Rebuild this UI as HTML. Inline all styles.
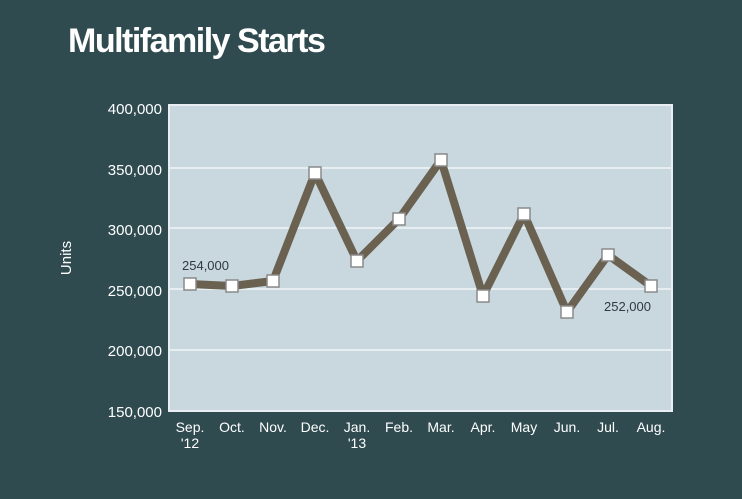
<!DOCTYPE html>
<html><head><style>
body{margin:0;width:742px;height:494px;background:#2f4b4f;overflow:hidden}
</style></head><body>
<svg width="742" height="494" xmlns="http://www.w3.org/2000/svg" font-family="Liberation Sans, sans-serif">
<rect width="742" height="494" fill="#2f4b4f"/>
<text x="68" y="52" fill="#fff" font-size="34" font-weight="bold" letter-spacing="-1.5">Multifamily Starts</text>
<rect x="169" y="105" width="503" height="306" fill="#c9d7df" stroke="#e8eef2" stroke-width="2"/>
<g stroke="#e6eef2" stroke-width="2">
<line x1="170" x2="671" y1="168" y2="168"/>
<line x1="170" x2="671" y1="228" y2="228"/>
<line x1="170" x2="671" y1="289" y2="289"/>
<line x1="170" x2="671" y1="350" y2="350"/>
</g>
<g fill="#fff" font-size="15" text-anchor="end">
<text x="162" y="114">400,000</text>
<text x="162" y="175">350,000</text>
<text x="162" y="235">300,000</text>
<text x="162" y="296">250,000</text>
<text x="162" y="356">200,000</text>
<text x="162" y="417">150,000</text>
</g>
<text transform="translate(71,258) rotate(-90)" fill="#fff" font-size="15" text-anchor="middle">Units</text>
<g fill="#fff" font-size="14" text-anchor="middle">
<text x="190" y="432">Sep.</text><text x="190" y="448">'12</text>
<text x="232" y="432">Oct.</text>
<text x="273" y="432">Nov.</text>
<text x="315" y="432">Dec.</text>
<text x="357" y="432">Jan.</text><text x="357" y="448">'13</text>
<text x="399" y="432">Feb.</text>
<text x="441" y="432">Mar.</text>
<text x="483" y="432">Apr.</text>
<text x="524" y="432">May</text>
<text x="567" y="432">Jun.</text>
<text x="608" y="432">Jul.</text>
<text x="651" y="432">Aug.</text>
</g>
<polyline fill="none" stroke="#6b6150" stroke-width="8" stroke-linejoin="round" points="190,284 232,286 273,281 315,173 357,261 399,219 441,160 483,296 524,214 567,312 608,255 651,286"/>
<g fill="#fff" stroke="#8a8a8a" stroke-width="1.5">
<rect x="184" y="278" width="12" height="12"/>
<rect x="226" y="280" width="12" height="12"/>
<rect x="267" y="275" width="12" height="12"/>
<rect x="309" y="167" width="12" height="12"/>
<rect x="351" y="255" width="12" height="12"/>
<rect x="393" y="213" width="12" height="12"/>
<rect x="435" y="154" width="12" height="12"/>
<rect x="477" y="290" width="12" height="12"/>
<rect x="518" y="208" width="12" height="12"/>
<rect x="561" y="306" width="12" height="12"/>
<rect x="602" y="249" width="12" height="12"/>
<rect x="645" y="280" width="12" height="12"/>
</g>
<text x="182" y="270" fill="#2e3a44" font-size="13">254,000</text>
<text x="604" y="311" fill="#2e3a44" font-size="13">252,000</text>
</svg>
</body></html>
